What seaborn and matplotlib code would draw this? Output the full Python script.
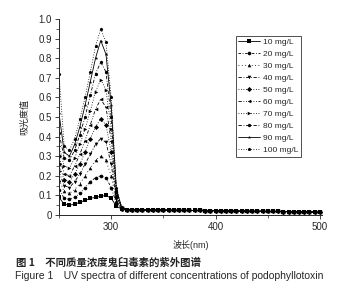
import pandas as pd
import matplotlib
matplotlib.use("Agg")
import matplotlib.pyplot as plt
import seaborn as sns
from matplotlib.ticker import MultipleLocator

# wavelength grid (nm)
wavelength = [250, 255, 260, 265, 270, 275, 280, 285, 290, 295, 300, 305, 310,
              315, 320, 325, 330, 335, 340, 345, 350, 355, 360, 365, 370, 375,
              380, 385, 390, 395, 400, 405, 410, 415, 420, 425, 430, 435, 440,
              445, 450, 455, 460, 465, 470, 475, 480, 485, 490, 495, 500]

concentrations = ['10 mg/L', '20 mg/L', '30 mg/L', '40 mg/L', '50 mg/L',
                  '60 mg/L', '70 mg/L', '80 mg/L', '90 mg/L', '100 mg/L']

# absorbance 250-310 nm for each concentration
head_10 = [0.09, 0.055, 0.05, 0.055, 0.065, 0.075, 0.085, 0.09, 0.095, 0.10, 0.085, 0.045, 0.03]
head_20 = [0.13, 0.085, 0.08, 0.09, 0.11, 0.14, 0.17, 0.19, 0.20, 0.19, 0.14, 0.06, 0.03]
head_30 = [0.18, 0.12, 0.11, 0.13, 0.16, 0.20, 0.24, 0.28, 0.30, 0.28, 0.20, 0.07, 0.03]
head_40 = [0.22, 0.15, 0.14, 0.17, 0.21, 0.26, 0.31, 0.36, 0.39, 0.37, 0.26, 0.08, 0.03]
head_50 = [0.26, 0.18, 0.17, 0.21, 0.26, 0.32, 0.39, 0.45, 0.49, 0.46, 0.32, 0.09, 0.03]
head_60 = [0.30, 0.21, 0.20, 0.25, 0.31, 0.38, 0.46, 0.54, 0.59, 0.55, 0.38, 0.10, 0.035]
head_70 = [0.35, 0.25, 0.24, 0.29, 0.36, 0.44, 0.53, 0.63, 0.69, 0.64, 0.44, 0.11, 0.035]
head_80 = [0.42, 0.29, 0.28, 0.33, 0.41, 0.50, 0.61, 0.72, 0.78, 0.73, 0.50, 0.12, 0.035]
head_90 = [0.52, 0.32, 0.30, 0.36, 0.45, 0.56, 0.68, 0.80, 0.89, 0.82, 0.56, 0.13, 0.04]
head_100 = [0.72, 0.35, 0.33, 0.39, 0.49, 0.60, 0.73, 0.86, 0.95, 0.88, 0.60, 0.14, 0.04]

# flat baseline 315-500 nm (all curves overlap here)
tail = [0.028, 0.027, 0.027, 0.026, 0.026, 0.026, 0.025, 0.025, 0.025, 0.024,
        0.024, 0.024, 0.023, 0.023, 0.023, 0.022, 0.022, 0.022, 0.021, 0.021,
        0.021, 0.020, 0.020, 0.020, 0.019, 0.019, 0.019, 0.018, 0.018, 0.018,
        0.017, 0.017, 0.017, 0.016, 0.016, 0.016, 0.015, 0.015]

heads = [head_10, head_20, head_30, head_40, head_50,
         head_60, head_70, head_80, head_90, head_100]

rows = []
for conc, head in zip(concentrations, heads):
    for wl, a in zip(wavelength, head + tail):
        rows.append({'wavelength': wl, 'absorbance': a, 'conc': conc})
df = pd.DataFrame(rows)

sns.set_style("ticks")
plt.rcParams['font.family'] = ['Liberation Sans', 'Noto Sans CJK SC']

marker_map = dict(zip(concentrations, ['s', 'o', '^', 'v', 'D', '<', '>', 'h', '*', 'p']))
dash_map = dict(zip(concentrations, ['', (3, 2, 1, 2), (1, 3), (4, 2, 1, 2), (1, 2),
                                     (4, 2, 1, 2, 1, 2), (1, 2), (4, 2, 1, 2), '', (1, 2)]))

fig = plt.figure(figsize=(3.42, 3.06), dpi=100)
ax = fig.add_axes([0.1725, 0.2974, 0.769, 0.6406])

sns.lineplot(data=df, x='wavelength', y='absorbance', hue='conc', style='conc',
             palette=['black'] * 10, markers=marker_map, dashes=dash_map,
             linewidth=0.6, markersize=2.6, markeredgewidth=0, ax=ax)

ax.set_xlim(250, 502)
ax.set_ylim(0, 1.0)
ax.xaxis.set_minor_locator(MultipleLocator(50))
ax.yaxis.set_minor_locator(MultipleLocator(0.05))
ax.set_yticks([0, 0.1, 0.2, 0.3, 0.4, 0.5, 0.6, 0.7, 0.8, 0.9, 1.0])
ax.set_yticklabels(['0', '0.1', '0.2', '0.3', '0.4', '0.5', '0.6', '0.7', '0.8', '0.9', '1.0'])
ax.set_xticks([300, 400, 500])
ax.tick_params(which='major', labelsize=7, length=3, width=0.6, pad=2)
ax.tick_params(which='minor', length=2, width=0.5)
for s in ['left', 'bottom']:
    ax.spines[s].set_linewidth(0.7)
sns.despine(ax=ax)

ax.set_xlabel('波长(nm)', fontsize=6.5, labelpad=6)
ax.set_ylabel('吸光度值', fontsize=6.5, labelpad=7)

handles, labels = ax.get_legend_handles_labels()
leg = ax.legend(handles, labels, loc='upper left', bbox_to_anchor=(0.673, 0.913),
                fontsize=6, frameon=True, fancybox=False, handlelength=2.6,
                handletextpad=0.3, labelspacing=0.5, borderpad=0.3,
                borderaxespad=0)
leg.get_frame().set_edgecolor('black')
leg.get_frame().set_linewidth(0.6)

fig.text(0.047, 0.143, '图 1　不同质量浓度鬼臼毒素的紫外图谱', fontsize=7.5,
         fontweight='bold', family=['Noto Sans CJK SC'], va='center')
fig.text(0.044, 0.098, 'Figure 1　UV spectra of different concentrations of podophyllotoxin',
         fontsize=7.5, family=['Liberation Sans', 'Noto Sans CJK SC'], va='center')

fig.savefig('out.png', dpi=100)
